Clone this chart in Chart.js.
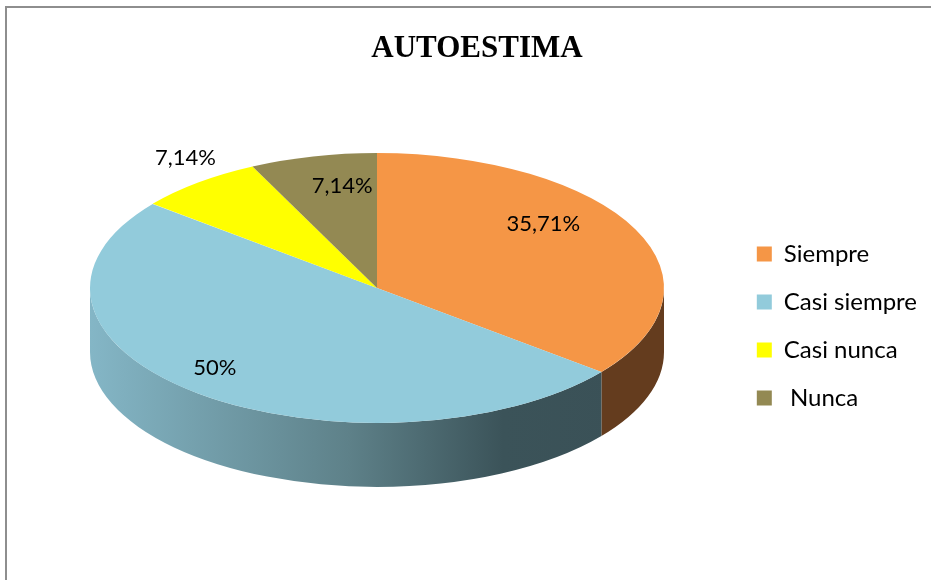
<!DOCTYPE html>
<html>
<head>
<meta charset="utf-8">
<script src="https://cdn.jsdelivr.net/npm/chart.js@4.4.1/dist/chart.umd.min.js"></script>
<style>
  html, body { margin: 0; padding: 0; background: #fff; }
  #wrap { position: relative; width: 931px; height: 580px; overflow: hidden; }
  #frame { position: absolute; left: 5px; top: 6px; width: 940px; height: 600px;
           border-top: 2px solid #8e8e8e; border-left: 2px solid #8e8e8e; }
  canvas { position: absolute; left: 0; top: 0; }
</style>
</head>
<body>
<div id="wrap">
  <div id="frame"></div>
  <canvas id="pie" width="931" height="580"></canvas>
</div>
<script>
const categories = ["Siempre", "Casi siempre", "Casi nunca", " Nunca"];
const shares = [35.71, 50, 7.14, 7.14];
const shareLabels = ["35,71%", "50%", "7,14%", "7,14%"];
const topColors = ["#f59646", "#92cbdb", "#ffff00", "#938953"];

// fake 3D: squash the disc, then hang a rim under its front half
const tilt = 0.47;
const depth = 64;
const faceX = 377;
const faceY = 288;

function rimFill(ctx, i, r) {
  if (i === 1) {
    const g = ctx.createLinearGradient(faceX - r, 0, faceX + r, 0);
    g.addColorStop(0, "#84b6c6");
    g.addColorStop(0.45, "#5e8189");
    g.addColorStop(0.72, "#3b5359");
    g.addColorStop(1, "#3a5056");
    return g;
  }
  return ["#643c1e", null, "#9a9a00", "#5c5431"][i];
}

const pie3d = {
  id: "pie3d",
  beforeDatasetsDraw(chart, args, opts) {
    const ctx = chart.ctx;
    const arcs = chart.getDatasetMeta(0).data;
    arcs.forEach((arc, i) => {
      const { outerRadius: r, startAngle, endAngle } = arc.getProps(["outerRadius", "startAngle", "endAngle"], true);
      const a0 = Math.max(startAngle, 0);
      const a1 = Math.min(endAngle, Math.PI);
      if (a1 <= a0) return;
      ctx.save();
      ctx.beginPath();
      ctx.ellipse(faceX, faceY, r, r * tilt, 0, a0, a1, false);
      ctx.ellipse(faceX, faceY + depth, r, r * tilt, 0, a1, a0, true);
      ctx.closePath();
      ctx.fillStyle = rimFill(ctx, i, r);
      ctx.fill();
      ctx.restore();
    });
    // move the library's disc onto the face position and flatten it
    const { x, y } = arcs[0].getProps(["x", "y"], true);
    ctx.save();
    ctx.translate(faceX, faceY);
    ctx.scale(1, tilt);
    ctx.translate(-x, -y);
  },
  afterDatasetsDraw(chart, args, opts) {
    const ctx = chart.ctx;
    ctx.restore();
    const arcs = chart.getDatasetMeta(0).data;
    ctx.save();
    ctx.font = opts.font;
    ctx.fillStyle = "#000";
    ctx.textAlign = "center";
    ctx.textBaseline = "middle";
    arcs.forEach((arc, i) => {
      const { outerRadius: r, startAngle, endAngle } = arc.getProps(["outerRadius", "startAngle", "endAngle"], true);
      const mid = (startAngle + endAngle) / 2 + opts.shift[i] * Math.PI / 180;
      const rr = r * opts.reach[i];
      ctx.fillText(shareLabels[i], faceX + rr * Math.cos(mid), faceY + rr * tilt * Math.sin(mid));
    });
    ctx.restore();
  }
};

new Chart(document.getElementById("pie"), {
  type: "pie",
  data: {
    labels: categories,
    datasets: [{
      data: shares,
      backgroundColor: topColors,
      borderWidth: 0,
      radius: 287
    }]
  },
  options: {
    responsive: false,
    animation: false,
    events: [],
    layout: { padding: { left: 27, right: 4, top: 0, bottom: 3 } },
    plugins: {
      title: {
        display: true,
        text: "AUTOESTIMA",
        color: "#000",
        font: { family: "Liberation Serif", size: 31, weight: "bold" },
        padding: { top: 30, bottom: 8 }
      },
      legend: {
        position: "right",
        fullSize: false,
        labels: {
          boxWidth: 15,
          boxHeight: 15,
          padding: 24,
          color: "#000",
          font: { family: "Lato", size: 24 }
        }
      },
      tooltip: { enabled: false },
      pie3d: {
        font: "22px Lato",
        reach: [0.75, 0.82, 1.17, 0.77],
        shift: [-13.7, 5, 3.8, 3.8]
      }
    }
  },
  plugins: [pie3d]
});
</script>
</body>
</html>
